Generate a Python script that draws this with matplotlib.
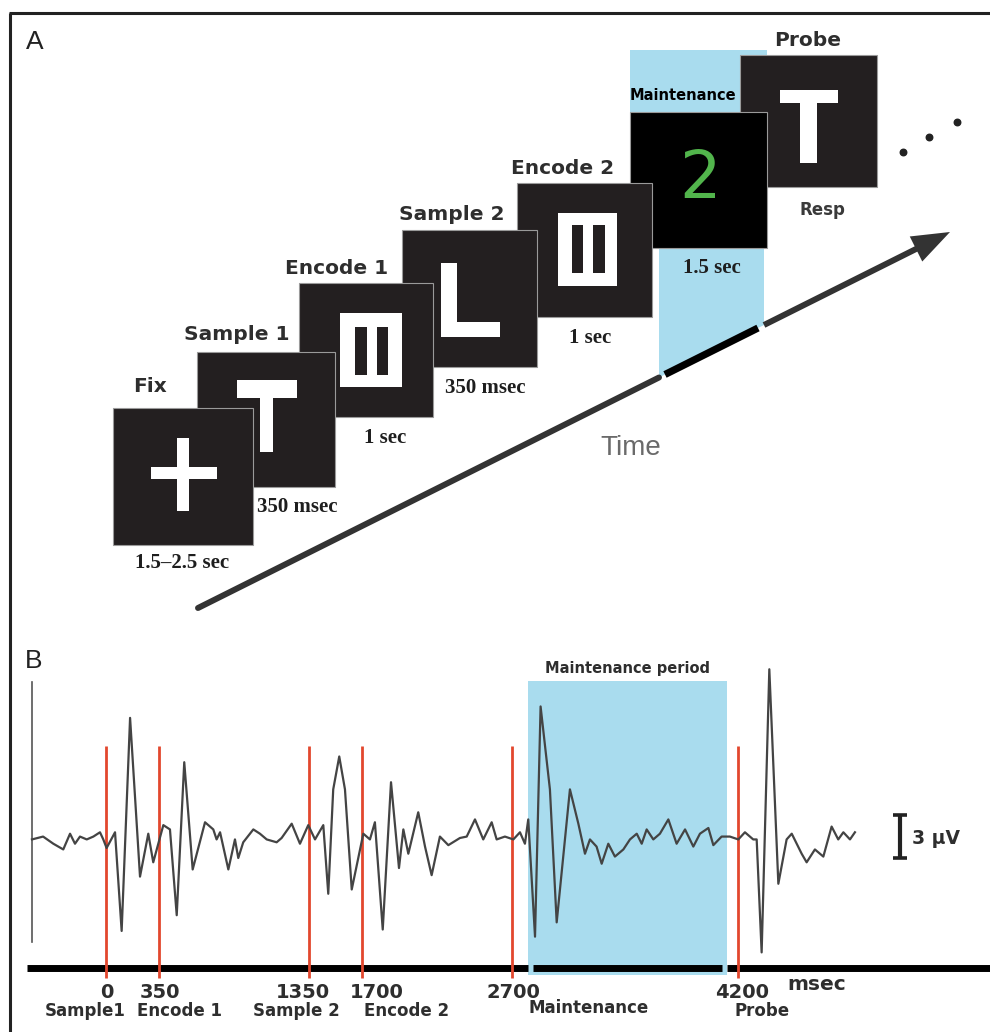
import matplotlib
matplotlib.use("Agg")
import matplotlib.pyplot as plt
from matplotlib.patches import Rectangle, Polygon

# ---- panel A: trial sequence ----
stages = ["Fix", "Sample 1", "Encode 1", "Sample 2", "Encode 2", "Maintenance", "Probe"]
durations = ["1.5\u20132.5 sec", "350 msec", "1 sec", "350 msec", "1 sec", "1.5 sec", "Resp"]

# ---- panel B: ERP trace (msec, microvolts) ----
trace_ms = [-492, -418, -350, -284, -239, -206, -173, -128, -84, -40,
            -18, 4, 60, 104, 160, 226, 281, 314, 381, 425,
            470, 520, 576, 658, 713, 735, 758, 813, 857, 879,
            912, 979, 1023, 1068, 1134, 1167, 1234, 1289, 1344, 1389,
            1444, 1477, 1510, 1550, 1588, 1633, 1710, 1754, 1787, 1839,
            1894, 1947, 1976, 2009, 2075, 2120, 2164, 2219, 2275, 2352,
            2397, 2452, 2507, 2563, 2596, 2651, 2707, 2751, 2784, 2806,
            2851, 2888, 2950, 2995, 3083, 3139, 3183, 3216, 3260, 3294,
            3338, 3382, 3438, 3482, 3527, 3560, 3593, 3637, 3681, 3737,
            3792, 3848, 3903, 3947, 4003, 4036, 4091, 4146, 4202, 4246,
            4301, 4324, 4357, 4408, 4468, 4523, 4557, 4623, 4656, 4711,
            4767, 4822, 4866, 4900, 4944, 4977]
trace_uv = [-0.1, 0.1, -0.4, -0.8, 0.3, -0.4, 0.1, -0.1, 0.1, 0.4,
            -0.1, -0.7, 0.4, -6.5, 8.4, -2.7, 0.3, -1.7, 0.9, 0.6,
            -5.4, 5.3, -2.2, 1.1, 0.6, -0.1, 0.4, -2.2, -0.1, -1.4,
            -0.3, 0.6, 0.3, -0.1, -0.3, 0.0, 1.0, -0.4, 0.9, -0.1,
            0.9, -3.9, 3.4, 5.7, 3.4, -3.6, 0.3, -0.1, 1.1, -6.4,
            3.9, -2.1, 0.6, -1.1, 1.8, -0.6, -2.6, 0.1, -0.5, 0.0,
            0.1, 1.3, -0.1, 1.1, -0.1, 0.1, -0.1, 0.4, -0.4, 1.3,
            -6.9, 9.2, 3.4, -5.9, 3.4, 1.0, -1.1, -0.1, -0.6, -1.8,
            -0.4, -1.3, -0.8, -0.1, 0.3, -0.4, 0.6, -0.1, 0.3, 1.3,
            -0.4, 0.6, -0.6, 0.3, 0.7, -0.5, 0.1, 0.1, -0.1, 0.4,
            -0.1, -0.1, -8.0, 11.8, -3.2, -0.1, 0.3, -1.1, -1.7, -0.8,
            -1.3, 0.8, -0.1, 0.4, -0.1, 0.4]
event_ms = [0, 350, 1350, 1700, 2700, 4200]
event_names = ["Sample1", "Encode 1", "Sample 2", "Encode 2", "Maintenance", "Probe"]
shade_ms = [2805, 4125]
scale_uv = 3

BOLD = "DejaVu Sans"
SERIF = "Liberation Serif"
PLAIN = "Liberation Sans"
TXT = "#2e2e2e"
BOX = "#231f20"
BLUE = "#a9dcee"
RED = "#e2472e"

fig = plt.figure(figsize=(9.9, 10.32), dpi=100)
ax = fig.add_axes([0, 0, 1, 1])
ax.set_xlim(0, 990)
ax.set_ylim(1032, 0)
ax.axis("off")

# panel B axes share the full canvas: 0 ms at x=106 px, 0 uV at y=838 px
PX_MS, PX_UV, X0, Y0 = 0.15048, 14.3, 106, 838
def tx(px):
    return (px - X0) / PX_MS
def vy(py):
    return (Y0 - py) / PX_UV

bx = fig.add_axes([0, 0, 1, 1])
bx.set_xlim(tx(0), tx(990))
bx.set_ylim(vy(1032), vy(0))
bx.axis("off")
bx.patch.set_alpha(0)

# frame
ax.plot([10, 10], [1032, 13], color="#222", lw=2.2, solid_capstyle="butt")
ax.plot([9, 990], [13, 13], color="#222", lw=2.2, solid_capstyle="butt")

# ---------------- panel A ----------------
ax.text(26, 42, "A", family=PLAIN, fontsize=19, color="#222", va="center", ha="left")

# (x, y, w, h) of each stimulus screen, earlier screens sit on top
boxes = [(113, 408, 140, 137), (197, 352, 138, 135), (299, 283, 134, 134),
         (402, 230, 135, 137), (517, 183, 135, 134), (630, 112, 137, 136),
         (740, 55, 137, 132)]
label_xy = [(150, 387), (237, 334), (337, 268), (452, 215), (563, 168), (683, 95), (808, 40)]
dur_xy = [(182, 563), (297, 507), (385, 438), (485, 388), (590, 338), (712, 268), (822, 210)]

# blue maintenance column behind the screens
arrow_start, arrow_tip = (198, 608), (950, 232)
slope = (arrow_tip[1] - arrow_start[1]) / (arrow_tip[0] - arrow_start[0])
def ya(x):
    return arrow_start[1] + slope * (x - arrow_start[0])
ax.add_patch(Rectangle((630, 50), 137, 62, color=BLUE, lw=0, zorder=1))
ax.add_patch(Polygon([(659, 248), (764, 248), (764, ya(764)), (659, ya(659))],
                     closed=True, color=BLUE, lw=0, zorder=1))

for i, (x, y, w, h) in enumerate(boxes):
    z = 20 - 2 * i
    fc = "#000" if stages[i] == "Maintenance" else BOX
    ax.add_patch(Rectangle((x, y), w, h, facecolor=fc, edgecolor="#9a9a9a", lw=0.8, zorder=z))
    lx, ly = label_xy[i]
    if stages[i] == "Maintenance":
        ax.text(lx, ly, stages[i], family=BOLD, weight="bold", fontsize=10.5,
                color="#000", ha="center", va="center", zorder=40)
    else:
        ax.text(lx, ly, stages[i], family=BOLD, weight="bold", fontsize=14.5,
                color=TXT, ha="center", va="center", zorder=40)
    dx, dy = dur_xy[i]
    if durations[i] == "Resp":
        ax.text(dx, dy, durations[i], family=BOLD, weight="bold", fontsize=12,
                color="#3a3a3a", ha="center", va="center", zorder=40)
    else:
        ax.text(dx, dy, durations[i], family=SERIF, weight="bold", fontsize=15,
                color="#1e1e1e", ha="center", va="center", zorder=40)

W = "white"
glyphs = [
    # fixation cross
    (151, 467, 66, 12, W, 20.5), (177, 438, 12, 73, W, 20.5),
    # T
    (237, 380, 60, 18, W, 18.5), (260, 398, 13, 54, W, 18.5),
    # II mask 1
    (340, 313, 62, 74, W, 16.5), (355, 327, 12, 48, BOX, 16.6), (377, 327, 11, 48, BOX, 16.6),
    # L
    (441, 263, 16, 74, W, 14.5), (441, 322, 59, 15, W, 14.5),
    # II mask 2
    (558, 213, 59, 73, W, 12.5), (572, 225, 11, 48, BOX, 12.6), (593, 225, 12, 48, BOX, 12.6),
    # probe T
    (780, 90, 58, 13, W, 8.5), (800, 103, 17, 60, W, 8.5),
]
for x, y, w, h, c, z in glyphs:
    ax.add_patch(Rectangle((x, y), w, h, color=c, lw=0, zorder=z))
ax.text(700, 180, "2", family="DejaVu Sans", fontsize=47, color="#52b54c",
        ha="center", va="center", zorder=11)

# time arrow with the maintenance segment highlighted
ax.plot([arrow_start[0], 659], [arrow_start[1], ya(659)], color="#333", lw=4.3,
        solid_capstyle="round", zorder=2)
ax.plot([665, 758], [ya(665), ya(758)], color="#000", lw=5.2, solid_capstyle="butt", zorder=2)
ax.plot([764, 918], [ya(764), ya(918)], color="#333", lw=4.3, solid_capstyle="butt", zorder=2)
ux, uy = 0.8944, -0.4472
hl, hw = 38, 14
bxc, byc = arrow_tip[0] - hl * ux, arrow_tip[1] - hl * uy
ax.add_patch(Polygon([arrow_tip, (bxc - hw * uy, byc + hw * ux), (bxc + hw * uy, byc - hw * ux)],
                     closed=True, color="#333", lw=0, zorder=2))
ax.scatter([903, 929, 957], [152, 137, 122], s=22, color="#222", zorder=3)
ax.text(631, 448, "Time", family=PLAIN, fontsize=20, color="#6a6a6a", ha="center", va="center")

# ---------------- panel B ----------------
ax.text(25, 661, "B", family=PLAIN, fontsize=19, color="#222", va="center", ha="left")
bx.plot([tx(32), tx(32)], [vy(682), vy(942)], color="#555", lw=1.2)

bx.add_patch(Rectangle((shade_ms[0], vy(975)), shade_ms[1] - shade_ms[0], vy(681) - vy(975),
                       color=BLUE, lw=0, zorder=1))
bx.text((shade_ms[0] + shade_ms[1]) / 2, vy(668), "Maintenance period", family=BOLD,
        weight="bold", fontsize=10.5, color=TXT, ha="center", va="center")

# time axis, interrupted at the shaded edges
gap = 5 / PX_MS
for a, b in [(tx(27), shade_ms[0]), (shade_ms[0] + gap, shade_ms[1] - gap), (shade_ms[1], tx(990))]:
    bx.plot([a, b], [vy(968), vy(968)], color="#000", lw=5, solid_capstyle="butt", zorder=2)

bx.vlines(event_ms, vy(978), vy(746), color=RED, lw=2, zorder=3)
bx.plot(trace_ms, trace_uv, color="#444", lw=1.6, zorder=4, solid_joinstyle="round")

# scale bar
sx = tx(900)
bx.plot([sx, sx], [vy(858), vy(858) + scale_uv], color="#222", lw=3, solid_capstyle="butt")
for yy in [vy(858), vy(858) + scale_uv]:
    bx.plot([sx - 7 / PX_MS, sx + 7 / PX_MS], [yy, yy], color="#222", lw=2.6, solid_capstyle="butt")
bx.text(tx(912), vy(838), "%d \u03bcV" % scale_uv, family=BOLD, weight="bold", fontsize=13.5,
        color=TXT, ha="left", va="center")

num_dx = [1, 1, -6, 15, 1, 4]
name_dx = [-21, 21, -13, 45, 76, 24]
for t, name, ndx, mdx in zip(event_ms, event_names, num_dx, name_dx):
    px = X0 + t * PX_MS
    ax.text(px + ndx, 993, str(t), family=BOLD, weight="bold", fontsize=14,
            color=TXT, ha="center", va="center")
    ax.text(px + mdx, 1011 if name != "Maintenance" else 1008, name, family=BOLD,
            weight="bold", fontsize=12, color=TXT, ha="center", va="center")
ax.text(817, 985, "msec", family=BOLD, weight="bold", fontsize=14.5, color=TXT,
        ha="center", va="center")

fig.savefig("out.png", dpi=100, facecolor="white")
